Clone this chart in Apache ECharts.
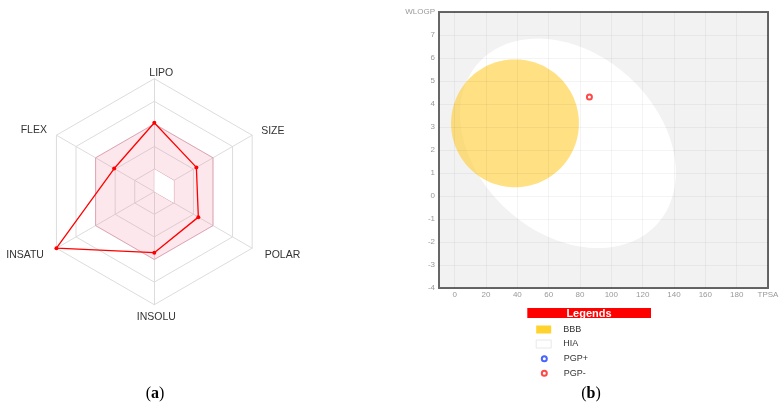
<!DOCTYPE html>
<html>
<head>
<meta charset="utf-8">
<script src="https://cdn.jsdelivr.net/npm/echarts@6/dist/echarts.min.js"></script>
<style>
  html, body { margin: 0; padding: 0; background: #fff; }
  #chart { width: 782px; height: 407px; }
</style>
</head>
<body>
<div id="chart"></div>
<script>
// (a) bioavailability radar, ring units 0..5
const radarAxes = ['LIPO', 'FLEX', 'INSATU', 'INSOLU', 'POLAR', 'SIZE'];
const compoundValues = [3.05, 2.05, 5, 2.7, 2.25, 2.15];
const rangeOuter = [3, 3, 3, 3, 3, 3];
const rangeInner = [1, 0, 0, 0, 1, 1];

// (b) boiled egg: [TPSA centre, WLOGP centre, TPSA semi-axis, WLOGP semi-axis, angle deg]
const hiaEllipse = [72.3, 2.29, 76.8, 3.92, 42];
const bbbEllipse = [38.5, 3.16, 40.8, 2.78, 0];
const pgpPlus = [];
const pgpMinus = [[86, 4.3]];
const tpsaTicks = [0, 20, 40, 60, 80, 100, 120, 140, 160, 180];

const font = 'Liberation Sans';
const chart = echarts.init(document.getElementById('chart'));

function ellipseItem(params, api) {
  const c = api.coord([api.value(0), api.value(1)]);
  const rx = api.size([api.value(2), 0])[0];
  const ry = api.size([0, api.value(3)])[1];
  const t = api.value(4) * Math.PI / 180;
  const pts = [];
  for (let i = 0; i < 144; i++) {
    const a = i / 144 * Math.PI * 2;
    const x = rx * Math.cos(a), y = ry * Math.sin(a);
    pts.push([c[0] + x * Math.cos(t) - y * Math.sin(t), c[1] + x * Math.sin(t) + y * Math.cos(t)]);
  }
  return {
    type: 'polygon',
    shape: { points: pts },
    style: { fill: api.visual('color'), opacity: params.seriesName === 'BBB' ? 0.6 : 1 }
  };
}

// nudge each axis name to where the original puts it
const nameRich = {
  LIPO: { padding: [0, 0, 0, 14] },
  FLEX: { padding: [0, 9.5, 10, 0] },
  INSATU: { padding: [14, 12.5, 0, 0] },
  INSOLU: { padding: [7, 0, 0, 4] },
  POLAR: { padding: [14, 0, 0, 12.5] },
  SIZE: { padding: [0, 0, 8, 9] }
};

const legendText = { color: '#333', fontSize: 9, fontFamily: font };

const option = {
  animation: false,
  radar: {
    center: [154.3, 191.7],
    radius: 113,
    startAngle: 90,
    splitNumber: 5,
    shape: 'polygon',
    nameGap: 0,
    indicator: radarAxes.map(n => ({ name: n, min: 0, max: 5 })),
    axisName: {
      color: '#333',
      fontSize: 10.5,
      fontFamily: font,
      formatter: n => '{' + n + '|' + n + '}',
      rich: nameRich
    },
    axisLine: { lineStyle: { color: '#dcdcdc', width: 1 } },
    splitLine: { lineStyle: { color: '#dcdcdc', width: 1 } },
    splitArea: { show: false },
    axisTick: { show: false },
    axisLabel: { show: false }
  },
  grid: {
    left: 439, top: 12, width: 329, height: 276,
    show: true,
    backgroundColor: '#f2f2f2',
    borderColor: '#666',
    borderWidth: 2
  },
  xAxis: {
    type: 'value',
    min: -10, max: 200, interval: 10,
    z: 3,
    axisLine: { show: false },
    axisTick: { show: false },
    axisLabel: {
      color: '#999', fontSize: 8, fontFamily: font, margin: 3,
      formatter: v => v === 200 ? 'TPSA' : (tpsaTicks.indexOf(v) >= 0 ? String(v) : '')
    },
    splitLine: { lineStyle: { color: ['rgba(0,0,0,0)', 'rgba(0,0,0,0.045)'], width: 1 } }
  },
  yAxis: {
    type: 'value',
    min: -4, max: 8, interval: 1,
    z: 3,
    axisLine: { show: false },
    axisTick: { show: false },
    axisLabel: {
      color: '#999', fontSize: 8, fontFamily: font, margin: 4,
      formatter: v => v === 8 ? 'WLOGP' : String(v)
    },
    splitLine: { lineStyle: { color: 'rgba(0,0,0,0.045)', width: 1 } }
  },
  legend: [
    {
      orient: 'vertical', left: 535.7, top: 325, padding: 0,
      itemWidth: 15, itemHeight: 8, itemGap: 5.5,
      selectedMode: false,
      textStyle: Object.assign({ rich: { t: { padding: [0, 0, 0, 7] } } }, legendText),
      formatter: '{t|{name}}',
      data: [
        { name: 'BBB', icon: 'rect', itemStyle: { color: '#ffd22e' } },
        { name: 'HIA', icon: 'rect', itemStyle: { color: '#fff', borderColor: '#e8e8e8', borderWidth: 1 } }
      ]
    },
    {
      orient: 'vertical', left: 540.8, top: 354.3, padding: 0,
      itemWidth: 15, itemHeight: 5, itemGap: 5.4,
      selectedMode: false,
      textStyle: Object.assign({ rich: { t: { padding: [0, 0, 0, 7] } } }, legendText),
      formatter: '{t|{name}}',
      data: [
        { name: 'PGP+', icon: 'emptyCircle' },
        { name: 'PGP-', icon: 'emptyCircle' }
      ]
    }
  ],
  graphic: [
    { type: 'rect', shape: { x: 527.3, y: 308, width: 123.7, height: 10 }, style: { fill: '#ff0000' } },
    { type: 'text', x: 589, y: 313.5, style: { text: 'Legends', fill: '#fff', font: 'bold 11px "Liberation Sans"', align: 'center', verticalAlign: 'middle' } },
    { type: 'text', x: 155, y: 393.5, style: { text: '{p|(}{b|a}{p|)}', align: 'center', verticalAlign: 'middle',
      rich: { p: { fontFamily: 'Liberation Serif', fontSize: 16, fill: '#000' }, b: { fontFamily: 'Liberation Serif', fontSize: 16, fontWeight: 'bold', fill: '#000' } } } },
    { type: 'text', x: 591, y: 393.5, style: { text: '{p|(}{b|b}{p|)}', align: 'center', verticalAlign: 'middle',
      rich: { p: { fontFamily: 'Liberation Serif', fontSize: 16, fill: '#000' }, b: { fontFamily: 'Liberation Serif', fontSize: 16, fontWeight: 'bold', fill: '#000' } } } }
  ],
  series: [
    {
      name: 'range', type: 'radar', silent: true, symbol: 'none',
      lineStyle: { color: 'rgba(225, 120, 150, 0.5)', width: 1 },
      areaStyle: { color: 'rgba(236, 110, 150, 0.17)', opacity: 1 },
      data: [{ value: rangeOuter }]
    },
    {
      name: 'hole', type: 'radar', silent: true, symbol: 'none',
      lineStyle: { color: 'rgba(225, 120, 150, 0.5)', width: 1 },
      areaStyle: { color: '#fff', opacity: 1 },
      data: [{ value: rangeInner }]
    },
    {
      name: 'compound', type: 'radar',
      symbol: 'circle', symbolSize: 4,
      itemStyle: { color: '#ff0000' },
      lineStyle: { color: '#ff0000', width: 1.3 },
      data: [{ value: compoundValues }]
    },
    {
      name: 'HIA', type: 'custom', renderItem: ellipseItem,
      itemStyle: { color: '#ffffff' },
      encode: { x: 0, y: 1 },
      data: [hiaEllipse]
    },
    {
      name: 'BBB', type: 'custom', renderItem: ellipseItem,
      itemStyle: { color: '#ffcc2e' },
      encode: { x: 0, y: 1 },
      data: [bbbEllipse]
    },
    {
      name: 'PGP+', type: 'scatter', z: 5,
      symbol: 'emptyCircle', symbolSize: 5,
      itemStyle: { color: '#1a3cff', borderWidth: 1.5 },
      data: pgpPlus
    },
    {
      name: 'PGP-', type: 'scatter', z: 5,
      symbol: 'emptyCircle', symbolSize: 5,
      itemStyle: { color: '#ff1a1a', borderWidth: 1.5 },
      data: pgpMinus
    }
  ]
};

chart.setOption(option);
</script>
</body>
</html>
